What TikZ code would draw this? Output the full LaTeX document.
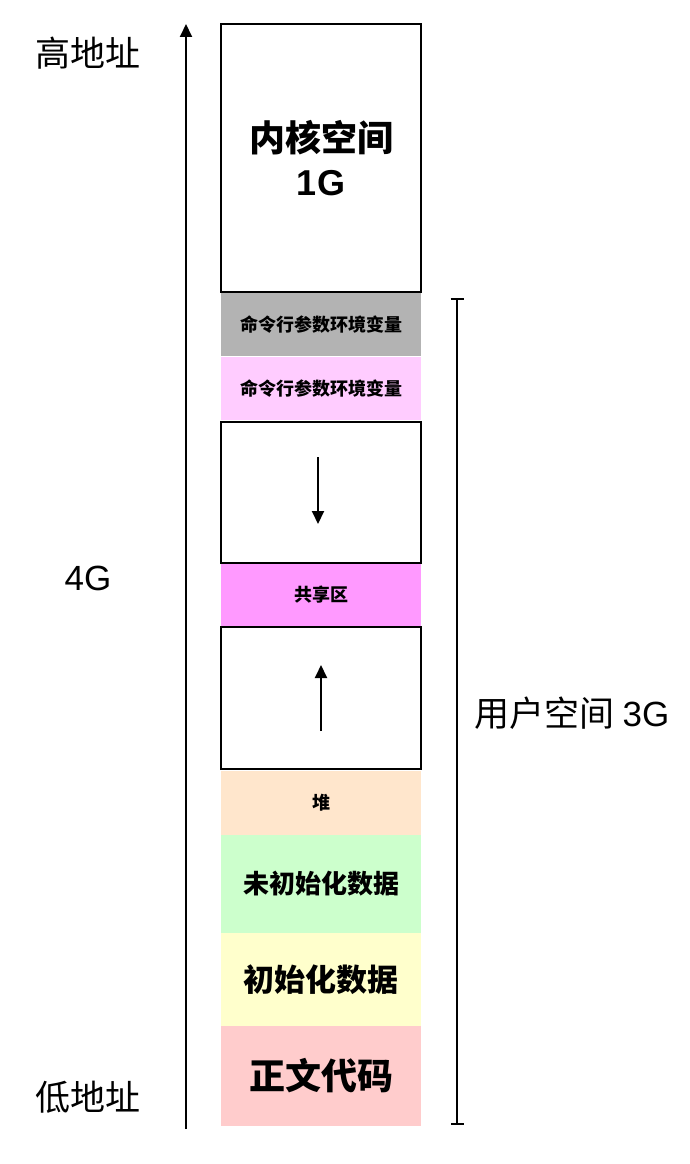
\documentclass[tikz,border=0pt]{standalone}
\usepackage{fontspec}
\setmainfont{Noto Sans CJK SC}
\newfontfamily\lat{Liberation Sans}
\usetikzlibrary{arrows.meta}
\definecolor{cgray}{HTML}{B3B3B3}
\definecolor{cpinkl}{HTML}{FFCCFF}
\definecolor{cmag}{HTML}{FF99FF}
\definecolor{cpeach}{HTML}{FFE6CC}
\definecolor{cgreen}{HTML}{CCFFCC}
\definecolor{cyellow}{HTML}{FFFFCC}
\definecolor{cred}{HTML}{FFCCCC}
\tikzset{
  seg/.style={anchor=north west, minimum width=200pt, inner sep=0pt, outer sep=0pt, align=center, font=\bfseries},
  framed/.style={seg, draw=black, line width=2pt},
  small/.style={font=\bfseries\fontsize{18}{20}\selectfont},
  side/.style={font=\fontsize{35}{40}\selectfont},
  line/.style={line width=2pt},
  tip/.style={-{Triangle[length=13pt,width=12pt]}},
}
\begin{document}
\begin{tikzpicture}[x=1pt,y=-1pt]
\useasboundingbox (0,0) rectangle (690,1164);
% column segments
\node[framed, minimum height=268pt, font=\bfseries\fontsize{36}{44}\selectfont] (kern) at (221,24) {内核空间\\{\lat\bfseries 1G}};
\node[seg, fill=cgray, minimum height=63pt, small] (env1) at (221,293) {命令行参数环境变量};
\node[seg, fill=cpinkl, minimum height=63pt, small] (env2) at (221,357) {命令行参数环境变量};
\node[framed, minimum height=141pt] (stack) at (221,422) {};
\node[seg, fill=cmag, minimum height=62pt, small] (shared) at (221,564) {共享区};
\node[framed, minimum height=142pt] (heapgap) at (221,627) {};
\node[seg, fill=cpeach, minimum height=64pt, small] (heap) at (221,771) {堆};
\node[seg, fill=cgreen, minimum height=98pt, font=\bfseries\fontsize{26}{30}\selectfont] (bss) at (221,835) {未初始化数据};
\node[seg, fill=cyellow, minimum height=93pt, font=\bfseries\fontsize{31}{34}\selectfont] (data) at (221,933) {初始化数据};
\node[seg, fill=cred, minimum height=100pt, font=\bfseries\fontsize{36}{40}\selectfont] (text) at (221,1026) {正文代码};
% growth arrows
\coordinate (sa) at (318,457);
\coordinate (sb) at (318,524);
\coordinate (ha) at (321,731);
\coordinate (hb) at (321,665);
\draw[line, tip] (sa) -- (sb);
\draw[line, tip] (ha) -- (hb);
% address axis
\coordinate (axlo) at (186,1129);
\coordinate (axhi) at (186,24);
\draw[line, tip] (axlo) -- (axhi);
\node[side] (hi) at (88,53) {高地址};
\node[side] (four) at (88,578) {\lat 4G};
\node[side] (lo) at (88,1097) {低地址};
% user space bracket
\coordinate (bt) at (457,298);
\coordinate (bb) at (457,1125);
\draw[line, {Bar[width=13pt,line width=2pt]}-{Bar[width=13pt,line width=2pt]}] (bt) -- (bb);
\node[side] (user) at (572,713) {用户空间 {\lat 3G}};
\end{tikzpicture}
\end{document}
